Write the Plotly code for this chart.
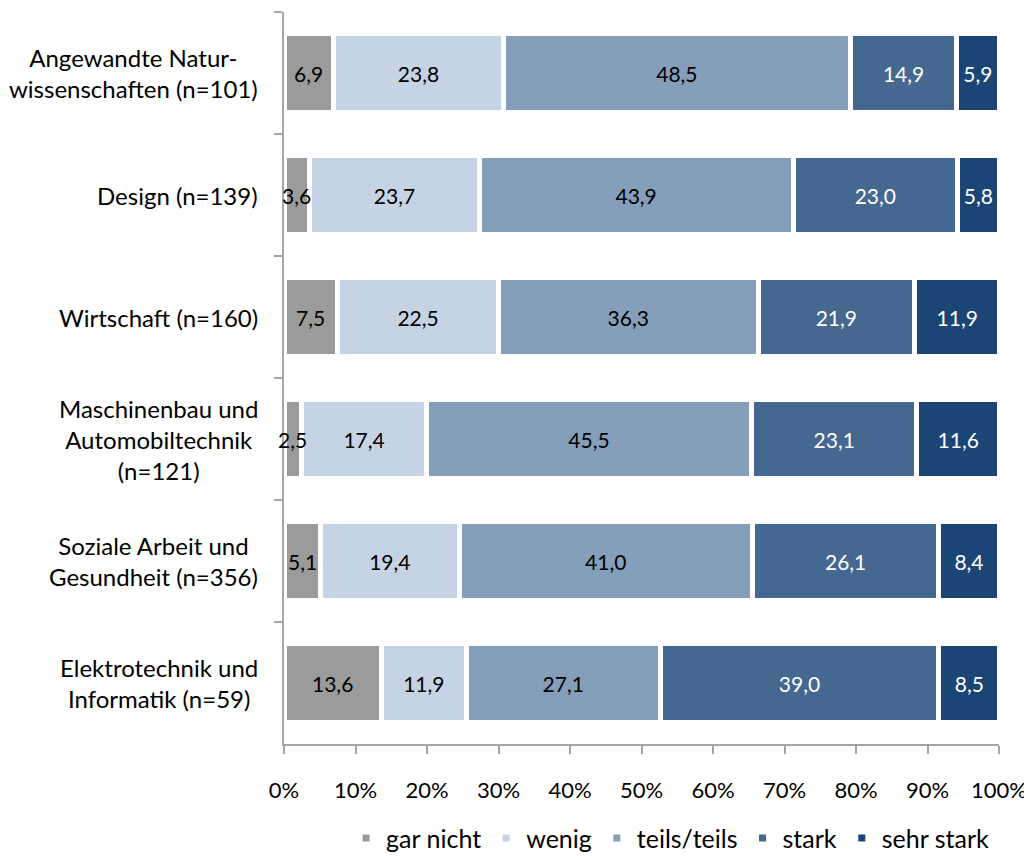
import plotly.graph_objects as go

categories = [
    "Angewandte Natur-<br>wissenschaften (n=101)",
    "Design (n=139)",
    "Wirtschaft (n=160)",
    "Maschinenbau und<br>Automobiltechnik<br>(n=121)",
    "Soziale Arbeit und<br>Gesundheit (n=356)",
    "Elektrotechnik und<br>Informatik (n=59)",
]
cat_keys = ["c1", "c2", "c3", "c4", "c5", "c6"]

gar_nicht = [6.9, 3.6, 7.5, 2.5, 5.1, 13.6]
wenig = [23.8, 23.7, 22.5, 17.4, 19.4, 11.9]
teils_teils = [48.5, 43.9, 36.3, 45.5, 41.0, 27.1]
stark = [14.9, 23.0, 21.9, 23.1, 26.1, 39.0]
sehr_stark = [5.9, 5.8, 11.9, 11.6, 8.4, 8.5]

series = [
    ("gar nicht", gar_nicht, "#9b9b9b", "black"),
    ("wenig", wenig, "#c6d3e4", "black"),
    ("teils/teils", teils_teils, "#859eba", "black"),
    ("stark", stark, "#44688f", "white"),
    ("sehr stark", sehr_stark, "#1a4574", "white"),
]

x_ticks = [0, 10, 20, 30, 40, 50, 60, 70, 80, 90, 100]
x_ticktext = [f"{v}%" for v in x_ticks]

FONT = "Lato"


def fmt(v):
    return f"{v:.1f}".replace(".", ",")


fig = go.Figure()
for i, (name, vals, color, tcolor) in enumerate(series):
    fig.add_trace(go.Bar(
        name=name,
        y=cat_keys,
        x=vals,
        orientation="h",
        marker=dict(color=color, line=dict(color="white", width=5)),
        text=None if i == 0 else [fmt(v) for v in vals],
        textposition="inside",
        insidetextanchor="middle",
        textangle=0,
        textfont=dict(color=tcolor, size=21, family=FONT),
        hoverinfo="skip",
    ))

annotations = []
# labels of the first (narrow) segments drawn on top so they may overflow
for key, v in zip(cat_keys, gar_nicht):
    annotations.append(dict(
        x=v / 2, xref="x", y=key, yref="y", text=fmt(v), showarrow=False,
        xanchor="center", yanchor="middle",
        font=dict(size=21, family=FONT, color="black"),
    ))
for key, label in zip(cat_keys, categories):
    annotations.append(dict(
        x=0, xref="paper", y=key, yref="y",
        text=label, showarrow=False, xanchor="right", align="center",
        xshift=-24, font=dict(size=24, family=FONT, color="black"),
    ))

# the page body has an 8px margin, so the figure is drawn 8px smaller
fig.update_layout(
    barmode="stack",
    bargap=0.36,
    width=1024, height=848,
    margin=dict(l=276, r=33, t=4, b=112),
    plot_bgcolor="white", paper_bgcolor="white",
    font=dict(family=FONT, size=22, color="black"),
    uniformtext=dict(minsize=21, mode="show"),
    showlegend=True,
    legend=dict(orientation="h", x=0.54, xanchor="center",
                yref="container", y=0.021, yanchor="middle",
                font=dict(size=25, family=FONT), traceorder="normal",
                itemwidth=30),
    annotations=annotations,
)
fig.update_xaxes(
    range=[0, 100], tickvals=x_ticks, ticktext=x_ticktext,
    showgrid=False, zeroline=False, automargin=False,
    showline=True, linecolor="#a6a6a6", linewidth=2,
    ticks="outside", ticklen=8, tickwidth=2, tickcolor="#a6a6a6",
    ticklabelstandoff=18,
    tickfont=dict(size=22, family=FONT), fixedrange=True,
)
fig.update_yaxes(
    type="category", autorange="reversed", automargin=False,
    showticklabels=False, showgrid=False, zeroline=False,
    showline=True, linecolor="#a6a6a6", linewidth=2,
    ticks="outside", ticklen=8, tickwidth=2, tickcolor="#a6a6a6",
    tickson="boundaries",
)

fig.write_html("out.html")
